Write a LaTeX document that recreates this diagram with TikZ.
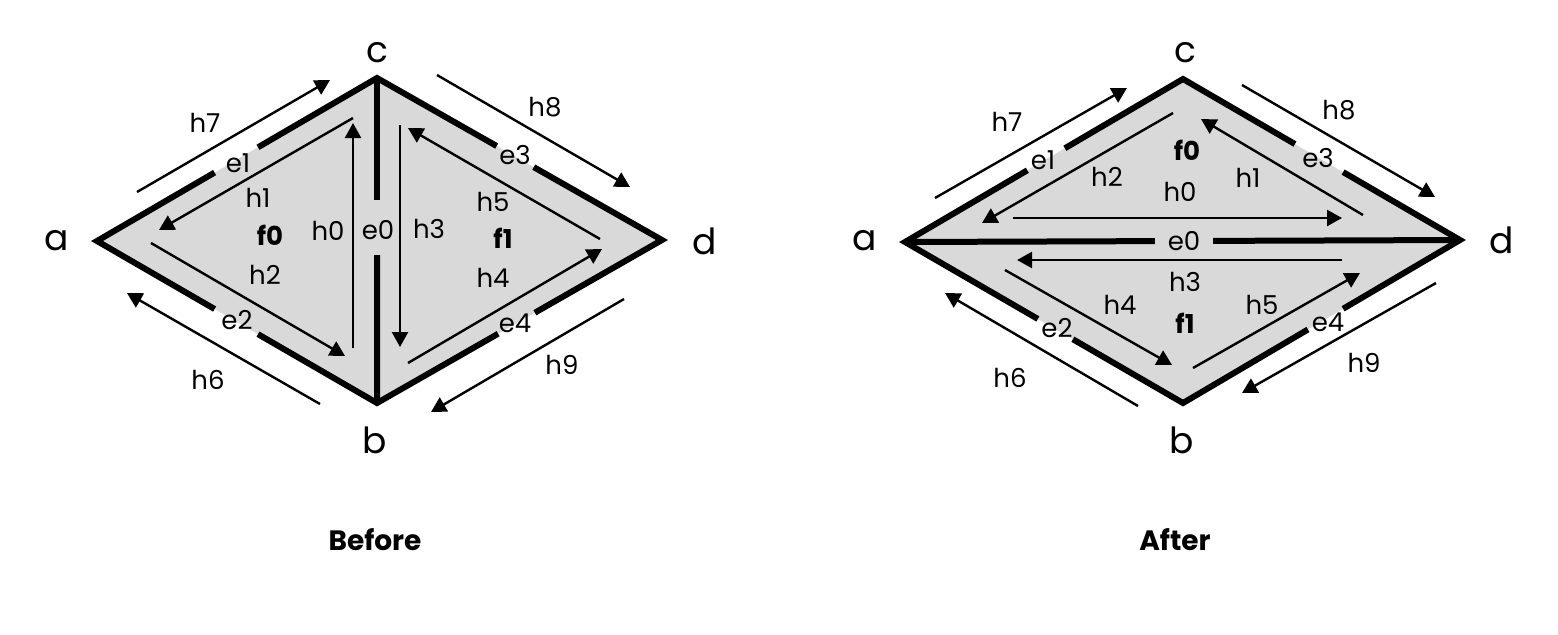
\documentclass[tikz,border=0pt]{standalone}
\usepackage{fontspec}
\setmainfont{Poppins}
\usetikzlibrary{arrows.meta,calc}
\definecolor{facegray}{HTML}{D9D9D9}
\begin{document}
\begin{tikzpicture}[x=0.5pt,y=-0.5pt,
  edge/.style={line width=3pt, line cap=butt, line join=miter},
  half/.style={line width=1.2pt, -{Triangle[length=7.5pt,width=8pt]}},
  lbl/.style={font=\fontsize{13}{13}\selectfont, inner sep=0pt},
  vlbl/.style={font=\fontsize{18}{18}\selectfont, inner sep=0pt},
  facelbl/.style={font=\fontsize{13}{13}\selectfont\bfseries, inner sep=0pt},
  title/.style={font=\fontsize{14}{14}\selectfont\bfseries, inner sep=0pt}]
\useasboundingbox (0,0) rectangle (1558,634);

% ================= BEFORE =================
\coordinate (Ba) at (97,241);
\coordinate (Bc) at (377,78);
\coordinate (Bd) at (662,240);
\coordinate (Bb) at (377,403);
\fill[facegray] (Ba) -- (Bc) -- (Bd) -- (Bb) -- cycle;
\draw[edge] (Bc) -- ($(Bc)!0.375!(Bb)$);
\draw[edge] ($(Bc)!0.545!(Bb)$) -- (Bb);
\draw[edge] ($(Ba)!0.575!(Bc)$) -- (Bc) -- ($(Bc)!0.42!(Bd)$);
\draw[edge] ($(Bc)!0.55!(Bd)$) -- (Bd) -- ($(Bd)!0.446!(Bb)$);
\draw[edge] ($(Bd)!0.575!(Bb)$) -- (Bb) -- ($(Ba)!0.575!(Bb)$);
\draw[edge] ($(Ba)!0.42!(Bb)$) -- (Ba) -- ($(Ba)!0.42!(Bc)$);

\node[vlbl] (Bla) at (57,241) {a};
\node[vlbl] (Blc) at (377,53) {c};
\node[vlbl] (Bld) at (705,241) {d};
\node[vlbl] (Blb) at (375,440) {b};

\node[lbl] (Be1) at (238,163) {e1};
\node[lbl] (Be2) at (237,320) {e2};
\node[lbl] (Be3) at (515,155) {e3};
\node[lbl] (Be4) at (515,323) {e4};
\node[lbl] (Be0) at (378,230) {e0};

\node[facelbl] (Bf0) at (270,235) {f0};
\node[facelbl] (Bf1) at (503,238) {f1};

% half-edges
\coordinate (Bh7s) at (137,192); \coordinate (Bh7e) at (330,80);
\coordinate (Bh1s) at (353,118); \coordinate (Bh1e) at (159,230);
\coordinate (Bh0s) at (353,348); \coordinate (Bh0e) at (353,123);
\coordinate (Bh2s) at (151,243); \coordinate (Bh2e) at (345,356);
\coordinate (Bh6s) at (320,404); \coordinate (Bh6e) at (127,293);
\coordinate (Bh3s) at (400,125); \coordinate (Bh3e) at (400,347);
\coordinate (Bh5s) at (600,239); \coordinate (Bh5e) at (408,128);
\coordinate (Bh8s) at (437,75);  \coordinate (Bh8e) at (630,187);
\coordinate (Bh4s) at (408,363); \coordinate (Bh4e) at (602,249);
\coordinate (Bh9s) at (624,299); \coordinate (Bh9e) at (431,412);
\foreach \h in {7,1,0,2,6,3,5,8,4,9} \draw[half] (Bh\h s) -- (Bh\h e);

\node[lbl] (Blh7) at (205,123) {h7};
\node[lbl] (Blh1) at (258,198) {h1};
\node[lbl] (Blh0) at (328,231) {h0};
\node[lbl] (Blh2) at (265,275) {h2};
\node[lbl] (Blh6) at (208,380) {h6};
\node[lbl] (Blh3) at (429,229) {h3};
\node[lbl] (Blh5) at (493,202) {h5};
\node[lbl] (Blh8) at (545,107) {h8};
\node[lbl] (Blh4) at (493,278) {h4};
\node[lbl] (Blh9) at (562,365) {h9};

\node[title] (Btitle) at (375,540) {Before};

% ================= AFTER =================
\coordinate (Aa) at (905,242);
\coordinate (Ac) at (1183,79);
\coordinate (Ad) at (1460,240);
\coordinate (Ab) at (1183,403);
\fill[facegray] (Aa) -- (Ac) -- (Ad) -- (Ab) -- cycle;
\draw[edge] (Aa) -- ($(Aa)!0.45!(Ad)$);
\draw[edge] ($(Aa)!0.555!(Ad)$) -- (Ad);
\draw[edge] ($(Aa)!0.575!(Ac)$) -- (Ac) -- ($(Ac)!0.404!(Ad)$);
\draw[edge] ($(Ac)!0.578!(Ad)$) -- (Ad) -- ($(Ad)!0.422!(Ab)$);
\draw[edge] ($(Ad)!0.549!(Ab)$) -- (Ab) -- ($(Aa)!0.604!(Ab)$);
\draw[edge] ($(Aa)!0.478!(Ab)$) -- (Aa) -- ($(Aa)!0.44!(Ac)$);

\node[vlbl] (Ala) at (865,241) {a};
\node[vlbl] (Alc) at (1185,53) {c};
\node[vlbl] (Ald) at (1502,240) {d};
\node[vlbl] (Alb) at (1182,440) {b};

\node[lbl] (Ae1) at (1043,160) {e1};
\node[lbl] (Ae3) at (1318,158) {e3};
\node[lbl] (Ae2) at (1057,328) {e2};
\node[lbl] (Ae4) at (1328,322) {e4};
\node[lbl] (Ae0) at (1184,241) {e0};

\node[facelbl] (Af0) at (1187,150) {f0};
\node[facelbl] (Af1) at (1185,323) {f1};

\coordinate (Ah7s) at (935,198);  \coordinate (Ah7e) at (1127,88);
\coordinate (Ah2s) at (1173,113); \coordinate (Ah2e) at (982,223);
\coordinate (Ah0s) at (1013,218); \coordinate (Ah0e) at (1342,218);
\coordinate (Ah1s) at (1363,215); \coordinate (Ah1e) at (1201,119);
\coordinate (Ah8s) at (1242,85);  \coordinate (Ah8e) at (1435,197);
\coordinate (Ah3s) at (1342,260); \coordinate (Ah3e) at (1017,260);
\coordinate (Ah4s) at (1005,270); \coordinate (Ah4e) at (1172,365);
\coordinate (Ah5s) at (1193,368); \coordinate (Ah5e) at (1360,273);
\coordinate (Ah6s) at (1138,406); \coordinate (Ah6e) at (945,293);
\coordinate (Ah9s) at (1436,283); \coordinate (Ah9e) at (1242,393);
\foreach \h in {7,2,0,1,8,3,4,5,6,9} \draw[half] (Ah\h s) -- (Ah\h e);

\node[lbl] (Alh7) at (1007,122) {h7};
\node[lbl] (Alh2) at (1107,177) {h2};
\node[lbl] (Alh0) at (1180,192) {h0};
\node[lbl] (Alh1) at (1248,178) {h1};
\node[lbl] (Alh8) at (1339,110) {h8};
\node[lbl] (Alh3) at (1185,282) {h3};
\node[lbl] (Alh4) at (1120,305) {h4};
\node[lbl] (Alh5) at (1262,305) {h5};
\node[lbl] (Alh6) at (1010,378) {h6};
\node[lbl] (Alh9) at (1364,363) {h9};

\node[title] (Atitle) at (1175,540) {After};
\end{tikzpicture}
\end{document}
